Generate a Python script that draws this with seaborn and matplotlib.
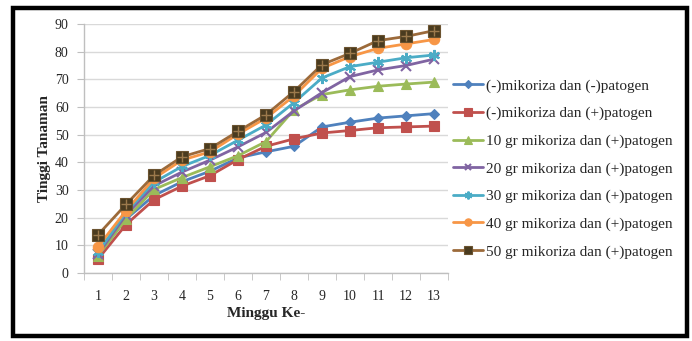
import numpy as np
import pandas as pd
import matplotlib
matplotlib.use("Agg")
import matplotlib.pyplot as plt
import seaborn as sns
from matplotlib.patches import Rectangle

# data
weeks = list(range(1, 14))
labels = ['(-)mikoriza dan (-)patogen',
          '(-)mikoriza dan (+)patogen',
          '10 gr mikoriza dan (+)patogen',
          '20 gr mikoriza dan (+)patogen',
          '30 gr mikoriza dan (+)patogen',
          '40 gr mikoriza dan (+)patogen',
          '50 gr mikoriza dan (+)patogen']
s_min_min = [6.5, 19.5, 28.0, 33.0, 36.8, 41.6, 43.8, 45.8, 52.8, 54.5, 56.0, 56.8, 57.6]
s_min_plus = [5.0, 17.5, 26.5, 31.4, 35.2, 41.0, 45.8, 48.5, 50.6, 51.5, 52.5, 52.8, 53.1]
s_10 = [6.2, 19.5, 30.2, 34.5, 38.4, 42.4, 47.5, 59.0, 64.5, 66.2, 67.5, 68.3, 69.0]
s_20 = [6.8, 21.0, 31.5, 36.5, 40.8, 45.6, 50.8, 58.6, 65.2, 71.0, 73.4, 75.0, 77.3]
s_30 = [7.5, 22.0, 32.8, 38.5, 42.5, 48.0, 53.5, 61.6, 70.5, 74.6, 76.2, 77.8, 78.8]
s_40 = [9.5, 22.5, 34.2, 40.8, 43.8, 50.2, 56.0, 64.0, 74.0, 78.2, 81.2, 82.8, 84.4]
s_50 = [13.8, 24.8, 35.3, 42.0, 45.0, 51.2, 57.2, 65.6, 75.3, 79.4, 84.0, 85.5, 87.6]
values = [s_min_min, s_min_plus, s_10, s_20, s_30, s_40, s_50]

colors = ['#4F81BD', '#C0504D', '#9BBB59', '#8064A2', '#4BACC6', '#F79646', '#9C6A3A']
markers = ['D', 's', '^', 'x', (6, 2, 0), 'o', 's']
msizes = [5.5, 7.5, 7.5, 7, 8, 7.5, 8]

df = pd.DataFrame({'week': np.tile(weeks, len(labels)),
                   'tinggi': np.concatenate(values),
                   'grup': np.repeat(labels, len(weeks))})

sns.set_style("white")
plt.rcParams['font.family'] = ['Liberation Serif', 'DejaVu Serif']

fig = plt.figure(figsize=(6.92, 3.41), dpi=100)
ax = fig.add_axes([84/692, 1-273/341, 364/692, 249/341])

for i, lab in enumerate(labels):
    sub = df[df['grup'] == lab]
    kw = dict(marker=markers[i], markersize=msizes[i], color=colors[i],
              markeredgecolor=colors[i], markeredgewidth=1.5 if markers[i] in ('x', (6, 2, 0)) else 0.8)
    if i == 6:
        kw['markerfacecolor'] = '#4A3B1F'
        kw['markeredgecolor'] = '#6B5330'
    sns.lineplot(data=sub, x='week', y='tinggi', ax=ax, label=lab, linewidth=2.0, **kw)
    if i == 6:
        ax.plot(sub['week'], sub['tinggi'], linestyle='none', marker='+', markersize=6.5,
                color='#9C7A4C', markeredgewidth=1.0, label='_nolegend_')

ax.set_xlim(0.5, 13.5)
ax.set_ylim(0, 90)
ax.set_yticks(range(0, 91, 10))
ax.set_xticks(weeks)
ax.set_xticks(np.arange(0.5, 14, 1), minor=True)
ax.tick_params(axis='x', which='major', length=0, pad=12, labelsize=10)
ax.tick_params(axis='x', which='minor', length=5, color='#BFBFBF', direction='out', bottom=True)
ax.tick_params(axis='y', length=5, color='#BFBFBF', direction='out', left=True, pad=6, labelsize=10)
ax.yaxis.grid(True, color='#D9D9D9', linewidth=1.0)
ax.set_axisbelow(True)
for side in ['top', 'right']:
    ax.spines[side].set_visible(False)
for side in ['left', 'bottom']:
    ax.spines[side].set_color('#BFBFBF')
    ax.spines[side].set_linewidth(1.0)

ax.set_xlabel('Minggu Ke-', fontsize=11, fontweight='bold', labelpad=3)
ax.set_ylabel('Tinggi Tanaman', fontsize=11, fontweight='bold', labelpad=3)

ax.legend(loc='upper left', bbox_to_anchor=(453/692, 1-79/341), bbox_transform=fig.transFigure,
          frameon=False, fontsize=11, borderpad=0, borderaxespad=0, handlelength=1.95,
          handletextpad=0.2, labelspacing=0.9, markerscale=0.7)

fig.patches.append(Rectangle((12.5/692, 1-335.5/341), 674/692, 328/341, transform=fig.transFigure,
                             fill=False, edgecolor='black', linewidth=3.2))

fig.savefig('out.png', dpi=100)
